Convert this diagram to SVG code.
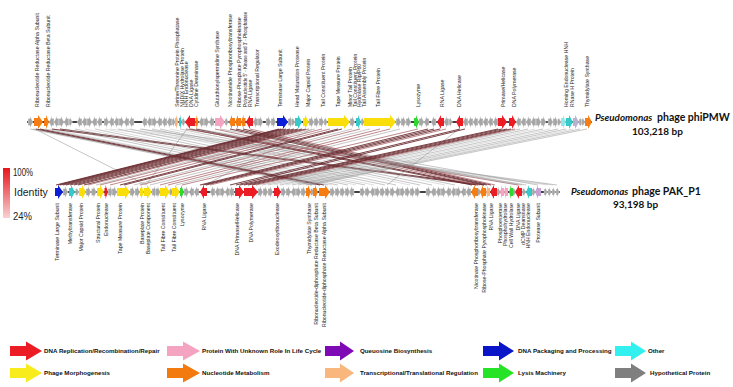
<svg xmlns="http://www.w3.org/2000/svg" xmlns:xlink="http://www.w3.org/1999/xlink" width="733" height="387" viewBox="0 0 733 387">
<style>
.g{fill:#a6a6a6;stroke:#fff;stroke-width:.35}
.bb{stroke:#000;stroke-width:1.6}
.r{fill:#ec1c24}.o{fill:#f57d12}.lo{fill:#f9b47c}.pk{fill:#f4a3c0}.pu{fill:#c5a1d8}.bl{fill:#0b1ed8}.cy{fill:#35c9c9}.lc{fill:#94e6e6}.y{fill:#f9de0a}.gn{fill:#2ed82e}
.lt{font-family:"Liberation Sans",Arial,sans-serif;font-size:5.2px;fill:#1a1a1a}
.lb{font-family:"Liberation Sans",Arial,sans-serif;font-size:5.2px;fill:#1a1a1a;text-anchor:end}
.lg{font-family:"Liberation Sans",Arial,sans-serif;font-size:6.2px;font-weight:bold;fill:#111}
.sp{font-family:Lato,"Liberation Sans",Arial,sans-serif;font-size:10.5px;font-weight:bold;fill:#111}
.spi{font-family:Lato,"Liberation Sans",Arial,sans-serif;font-size:9.8px;font-weight:bold;font-style:italic;fill:#111}
.bp{font-family:Lato,"Liberation Sans",Arial,sans-serif;font-size:10px;font-weight:bold;fill:#111}
.id{font-family:"Liberation Sans",Arial,sans-serif;font-size:10px;fill:#222}
.k1{stroke:#6b2d31;stroke-width:.9}
.k2{stroke:#a0585c;stroke-width:.7}
.k3{stroke:#8c8c8c;stroke-width:.5}
.k4{stroke:#bdbdbd;stroke-width:.5}
</style>
<defs>
<path id="gR" d="M0,-3.5H2V-6L5,0L2,6V3.5H0Z"/>
<path id="gL" d="M5,-3.5H3V-6L0,0L3,6V3.5H5Z"/>
<path id="gs" d="M0,-3H1V-5L3.5,0L1,5V3H0Z"/>
<linearGradient id="idg" x1="0" y1="0" x2="0" y2="1">
<stop offset="0" stop-color="#e8141c"/>
<stop offset="1" stop-color="#f8d2d4"/>
</linearGradient>
</defs>
<rect width="733" height="387" fill="#fff"/>

<g id="connectors" fill="none">
<line class="k3" x1="30" y1="129" x2="312" y2="185"/>
<line class="k3" x1="33" y1="129" x2="316" y2="185"/>
<line class="k1" x1="36" y1="129" x2="320" y2="185"/>
<line class="k1" x1="40" y1="129" x2="324" y2="185"/>
<line class="k3" x1="45" y1="129" x2="328" y2="185"/>
<line class="k4" x1="50" y1="129" x2="332" y2="185"/>
<line class="k1" x1="52" y1="129" x2="478" y2="185"/>
<line class="k1" x1="60" y1="129" x2="484" y2="185"/>
<line class="k3" x1="65" y1="129" x2="338" y2="185"/>
<line class="k3" x1="75" y1="129" x2="348" y2="185"/>
<line class="k4" x1="85" y1="129" x2="356" y2="185"/>
<line class="k3" x1="95" y1="129" x2="365" y2="185"/>
<line class="k4" x1="105" y1="129" x2="374" y2="185"/>
<line class="k3" x1="118" y1="129" x2="385" y2="185"/>
<line class="k3" x1="130" y1="129" x2="396" y2="185"/>
<line class="k4" x1="142" y1="129" x2="410" y2="185"/>
<line class="k3" x1="152" y1="129" x2="420" y2="185"/>
<line class="k3" x1="160" y1="129" x2="432" y2="185"/>
<line class="k4" x1="170" y1="129" x2="445" y2="185"/>
<line class="k3" x1="180" y1="129" x2="455" y2="185"/>
<line class="k4" x1="110" y1="129" x2="548" y2="185"/>
<line class="k4" x1="125" y1="129" x2="553" y2="185"/>
<line class="k3" x1="140" y1="129" x2="557" y2="185"/>
<line class="k1" x1="190" y1="129" x2="472" y2="185"/>
<line class="k1" x1="196" y1="129" x2="476" y2="185"/>
<line class="k2" x1="215" y1="129" x2="480" y2="185"/>
<line class="k1" x1="230" y1="129" x2="484" y2="185"/>
<line class="k1" x1="236" y1="129" x2="487" y2="185"/>
<line class="k1" x1="243" y1="129" x2="491" y2="185"/>
<line class="k2" x1="250" y1="129" x2="495" y2="185"/>
<line class="k2" x1="186" y1="129" x2="518" y2="185"/>
<line class="k3" x1="192" y1="129" x2="522" y2="185"/>
<line class="k3" x1="198" y1="129" x2="526" y2="185"/>
<line class="k3" x1="220" y1="129" x2="538" y2="185"/>
<line class="k3" x1="35" y1="129" x2="146" y2="185"/>
<line class="k3" x1="187" y1="129" x2="146" y2="185"/>
<line class="k1" x1="279" y1="129" x2="56" y2="185"/>
<line class="k1" x1="281" y1="129" x2="58" y2="185"/>
<line class="k1" x1="283" y1="129" x2="60" y2="185"/>
<line class="k1" x1="286" y1="129" x2="63" y2="185"/>
<line class="k1" x1="290" y1="129" x2="66" y2="185"/>
<line class="k1" x1="294" y1="129" x2="70" y2="185"/>
<line class="k1" x1="298" y1="129" x2="74" y2="185"/>
<line class="k1" x1="302" y1="129" x2="78" y2="185"/>
<line class="k1" x1="306" y1="129" x2="84" y2="185"/>
<line class="k2" x1="309" y1="129" x2="88" y2="185"/>
<line class="k3" x1="315" y1="129" x2="96" y2="185"/>
<line class="k2" x1="322" y1="129" x2="100" y2="185"/>
<line class="k2" x1="330" y1="129" x2="110" y2="185"/>
<line class="k1" x1="338" y1="129" x2="120" y2="185"/>
<line class="k1" x1="342" y1="129" x2="124" y2="185"/>
<line class="k3" x1="352" y1="129" x2="134" y2="185"/>
<line class="k2" x1="360" y1="129" x2="140" y2="185"/>
<line class="k3" x1="370" y1="129" x2="150" y2="185"/>
<line class="k2" x1="380" y1="129" x2="160" y2="185"/>
<line class="k2" x1="390" y1="129" x2="168" y2="185"/>
<line class="k3" x1="400" y1="129" x2="176" y2="185"/>
<line class="k2" x1="418" y1="129" x2="182" y2="185"/>
<line class="k3" x1="312" y1="129" x2="205" y2="185"/>
<line class="k1" x1="428" y1="129" x2="200" y2="185"/>
<line class="k1" x1="434" y1="129" x2="203" y2="185"/>
<line class="k1" x1="440" y1="129" x2="206" y2="185"/>
<line class="k2" x1="446" y1="129" x2="210" y2="185"/>
<line class="k3" x1="459" y1="129" x2="387" y2="185"/>
<line class="k1" x1="460" y1="129" x2="230" y2="185"/>
<line class="k1" x1="465" y1="129" x2="236" y2="185"/>
<line class="k1" x1="498" y1="129" x2="240" y2="185"/>
<line class="k1" x1="502" y1="129" x2="244" y2="185"/>
<line class="k1" x1="507" y1="129" x2="248" y2="185"/>
<line class="k1" x1="511" y1="129" x2="252" y2="185"/>
<line class="k2" x1="515" y1="129" x2="256" y2="185"/>
<line class="k3" x1="520" y1="129" x2="262" y2="185"/>
<line class="k3" x1="528" y1="129" x2="268" y2="185"/>
<line class="k4" x1="535" y1="129" x2="274" y2="185"/>
<line class="k3" x1="543" y1="129" x2="280" y2="185"/>
<line class="k4" x1="550" y1="129" x2="286" y2="185"/>
<line class="k3" x1="558" y1="129" x2="292" y2="185"/>
<line class="k3" x1="566" y1="129" x2="298" y2="185"/>
<line class="k4" x1="573" y1="129" x2="303" y2="185"/>
<line class="k3" x1="580" y1="129" x2="306" y2="185"/>
<line class="k3" x1="587" y1="129" x2="310" y2="185"/>
</g>

<g id="genome-phiPMW">
<line class="bb" x1="27" y1="122" x2="592" y2="122"/>
<g class="g">
<use href="#gR" x="28" y="122"/>
<use href="#gL" x="49" y="122"/><use href="#gL" x="54" y="122"/><use href="#gR" x="59" y="122"/><use href="#gL" x="64" y="122"/><use href="#gs" x="69" y="122"/>
<use href="#gL" x="77" y="122"/><use href="#gL" x="82" y="122"/><use href="#gR" x="87" y="122"/><use href="#gL" x="92" y="122"/><use href="#gL" x="97" y="122"/>
<use href="#gR" x="104" y="122"/><use href="#gL" x="109" y="122"/><use href="#gL" x="114" y="122"/><use href="#gR" x="119" y="122"/><use href="#gL" x="124" y="122"/><use href="#gL" x="129" y="122"/>
<use href="#gL" x="142" y="122"/><use href="#gL" x="147" y="122"/><use href="#gR" x="152" y="122"/><use href="#gL" x="157" y="122"/><use href="#gL" x="162" y="122"/><use href="#gL" x="167" y="122"/><use href="#gs" x="172" y="122"/>
<use href="#gs" x="182" y="122"/>
<use href="#gL" x="199" y="122"/><use href="#gR" x="204" y="122"/><use href="#gL" x="209" y="122"/>
<use href="#gs" x="225" y="122"/>
<use href="#gL" x="253" y="122"/><use href="#gR" x="258" y="122"/>
<use href="#gR" x="266" y="122"/><use href="#gR" x="271" y="122"/>
<use href="#gR" x="288" y="122"/><use href="#gs" x="291.5" y="122"/>
<use href="#gR" x="309" y="122"/><use href="#gR" x="314" y="122"/><use href="#gR" x="319" y="122"/><use href="#gs" x="324" y="122"/>
<use href="#gR" x="350" y="122"/><use href="#gs" x="361" y="122"/>
<use href="#gR" x="396" y="122"/><use href="#gR" x="401" y="122"/><use href="#gR" x="406" y="122"/>
<use href="#gR" x="419" y="122"/><use href="#gL" x="424" y="122"/><use href="#gL" x="431" y="122"/>
<use href="#gL" x="444" y="122"/><use href="#gs" x="449" y="122"/>
<use href="#gL" x="463" y="122"/><use href="#gL" x="468" y="122"/><use href="#gL" x="473" y="122"/><use href="#gL" x="478" y="122"/><use href="#gL" x="483" y="122"/><use href="#gL" x="488" y="122"/><use href="#gL" x="493" y="122"/>
<use href="#gL" x="516" y="122"/><use href="#gL" x="521" y="122"/><use href="#gL" x="526" y="122"/><use href="#gL" x="531" y="122"/><use href="#gR" x="536" y="122"/><use href="#gR" x="541" y="122"/>
<use href="#gR" x="548" y="122"/><use href="#gR" x="553" y="122"/><use href="#gs" x="557.5" y="122"/>
<use href="#gs" x="579" y="122"/><use href="#gs" x="581.5" y="122"/>
</g>
<path class="o" d="M34,118H38V115L43,122L38,129V126H34Z"/>
<path class="o" d="M44,118H46V115L49,122L46,129V126H44Z"/>
<path class="lo" d="M175,118H176V115L178.5,122L176,129V126H175Z"/>
<path class="cy" d="M179,118H180V115L182,122L180,129V126H179Z"/>
<path class="r" d="M195,118H190V115L185,122L190,129V126H195Z"/>
<path class="o" d="M195.5,118H196.5V115L198.5,122L196.5,129V126H195.5Z"/>
<path class="pk" d="M215,118H220V115L225,122L220,129V126H215Z"/>
<path class="o" d="M235,118H232V115L229,122L232,129V126H235Z"/>
<path class="o" d="M241,118H238V115L235,122L238,129V126H241Z"/>
<path class="o" d="M245.5,118H243.5V115L241,122L243.5,129V126H245.5Z"/>
<path class="r" d="M253,118H250V115L246,122L250,129V126H253Z"/>
<path class="bl" d="M277,118H283V115L288,122L283,129V126H277Z"/>
<path class="cy" d="M295,118H298V115L302,122L298,129V126H295Z"/>
<path class="y" d="M303,118H305V115L309,122L305,129V126H303Z"/>
<path class="y" d="M328,118H344V115L350,122L344,129V126H328Z"/>
<path class="cy" d="M356,118H358V115L361,122L358,129V126H356Z"/>
<path class="y" d="M364,118H390V115L396,122L390,129V126H364Z"/>
<path class="gn" d="M414,118H416V115L419,122L416,129V126H414Z"/>
<path class="r" d="M444,118H441V115L437,122L441,129V126H444Z"/>
<path class="r" d="M463,118H460V115L456,122L460,129V126H463Z"/>
<path class="r" d="M498,118H502V115L507,122L502,129V126H498Z"/>
<path class="r" d="M509,118H512V115L516,122L512,129V126H509Z"/>
<path class="lc" d="M561,118H563V115L566,122L563,129V126H561Z"/>
<path class="cy" d="M566,118H569V115L573,122L569,129V126H566Z"/>
<path fill="#b8b2d0" d="M573,118H575V115L579,122L575,129V126H573Z"/>
<path class="o" d="M585,118H588V115L592,122L588,129V126H585Z"/>
</g>

<g id="genome-PAK_P1">
<line class="bb" x1="55" y1="192" x2="560" y2="192"/>
<g class="g">
<use href="#gR" x="63" y="192"/><use href="#gs" x="75.5" y="192"/>
<use href="#gR" x="86" y="192"/><use href="#gR" x="91.5" y="192"/>
<use href="#gR" x="108" y="192"/><use href="#gR" x="112" y="192"/>
<use href="#gR" x="130" y="192"/><use href="#gR" x="135" y="192"/>
<use href="#gR" x="152" y="192"/><use href="#gR" x="155.5" y="192"/>
<use href="#gs" x="169.5" y="192"/>
<use href="#gR" x="184" y="192"/><use href="#gL" x="189" y="192"/><use href="#gL" x="194" y="192"/>
<use href="#gL" x="210" y="192"/><use href="#gL" x="215" y="192"/><use href="#gR" x="220" y="192"/><use href="#gL" x="225" y="192"/><use href="#gL" x="229" y="192"/>
<use href="#gR" x="258" y="192"/><use href="#gR" x="263" y="192"/><use href="#gR" x="268" y="192"/>
<use href="#gR" x="281" y="192"/><use href="#gR" x="286" y="192"/><use href="#gL" x="291" y="192"/><use href="#gR" x="296" y="192"/><use href="#gR" x="301" y="192"/>
<use href="#gs" x="310.5" y="192"/>
<use href="#gR" x="330" y="192"/><use href="#gR" x="335" y="192"/><use href="#gR" x="340" y="192"/><use href="#gR" x="345" y="192"/><use href="#gL" x="349" y="192"/>
<use href="#gR" x="360" y="192"/><use href="#gR" x="365" y="192"/><use href="#gL" x="370" y="192"/><use href="#gR" x="375" y="192"/><use href="#gR" x="380" y="192"/><use href="#gR" x="385" y="192"/><use href="#gR" x="390" y="192"/><use href="#gL" x="395" y="192"/><use href="#gR" x="400" y="192"/><use href="#gR" x="405" y="192"/><use href="#gR" x="410" y="192"/><use href="#gR" x="415" y="192"/>
<use href="#gR" x="426" y="192"/><use href="#gL" x="431" y="192"/><use href="#gL" x="436" y="192"/><use href="#gR" x="441" y="192"/><use href="#gL" x="446" y="192"/><use href="#gL" x="451" y="192"/><use href="#gR" x="456" y="192"/><use href="#gL" x="461" y="192"/><use href="#gL" x="466" y="192"/>
<use href="#gs" x="477.5" y="192"/><use href="#gs" x="497" y="192"/><use href="#gs" x="512.5" y="192"/><use href="#gs" x="522.5" y="192"/><use href="#gs" x="532" y="192"/>
<use href="#gs" x="544" y="192"/><use href="#gs" x="548" y="192"/><use href="#gs" x="552" y="192"/><use href="#gs" x="556" y="192"/>
</g>
<path class="bl" d="M55,188H58V185L63,192L58,199V196H55Z"/>
<path class="cy" d="M69,188H71V185L75,192L71,199V196H69Z"/>
<path class="y" d="M79,188H82V185L86,192L82,199V196H79Z"/>
<path class="y" d="M97,188H100V185L104,192L100,199V196H97Z"/>
<path class="r" d="M104.5,188H105.5V185L108,192L105.5,199V196H104.5Z"/>
<path class="y" d="M117,188H125V185L130,192L125,199V196H117Z"/>
<path class="y" d="M140,188H141V185L144,192L141,199V196H140Z"/>
<path class="y" d="M144,188H147V185L152,192L147,199V196H144Z"/>
<path class="y" d="M160,188H165V185L170,192L165,199V196H160Z"/>
<path class="y" d="M172,188H175V185L180,192L175,199V196H172Z"/>
<path class="gn" d="M180,188H181V185L184,192L181,199V196H180Z"/>
<path class="r" d="M207,188H204V185L200,192L204,199V196H207Z"/>
<path class="r" d="M235,188H239V185L244,192L239,199V196H235Z"/>
<path class="r" d="M244,188H252V185L258,192L252,199V196H244Z"/>
<path class="r" d="M274,188H277V185L281,192L277,199V196H274Z"/>
<path class="o" d="M306,188H308V185L311,192L308,199V196H306Z"/>
<path class="o" d="M313,188H315V185L318,192L315,199V196H313Z"/>
<path class="o" d="M319,188H325V185L330,192L325,199V196H319Z"/>
<path class="o" d="M478,188H475V185L471,192L475,199V196H478Z"/>
<path class="o" d="M486,188H483V185L480,192L483,199V196H486Z"/>
<path class="lo" d="M490,188H488V185L486,192L488,199V196H490Z"/>
<path class="r" d="M497,188H494V185L490,192L494,199V196H497Z"/>
<path class="pk" d="M504,188H502V185L500,192L502,199V196H504Z"/>
<path class="pk" d="M508,188H506V185L504,192L506,199V196H508Z"/>
<path class="gn" d="M513,188H511V185L509,192L511,199V196H513Z"/>
<path class="r" d="M522,188H519V185L515,192L519,199V196H522Z"/>
<path class="cy" d="M532,188H529V185L526,192L529,199V196H532Z"/>
<path class="pu" d="M541,188H538V185L535,192L538,199V196H541Z"/>
</g>

<g id="labels-phiPMW">
<text class="lt" transform="translate(38.8,107) rotate(-90)">Ribonucleotide Reductase Alpha Subunit</text>
<text class="lt" transform="translate(49.8,107) rotate(-90)">Ribonucleotide Reductase Beta Subunit</text>
<text class="lt" transform="translate(178.8,107) rotate(-90)">Serine/Threonine Protein Phosphatase</text>
<text class="lt" transform="translate(183.5,107) rotate(-90)">NUDIX Hydrolase Protein</text>
<text class="lt" transform="translate(188.2,107) rotate(-90)">HNH Endonuclease</text>
<text class="lt" transform="translate(192.8,107) rotate(-90)">DNA Ligase</text>
<text class="lt" transform="translate(197.5,107) rotate(-90)">Cytidine Deaminase</text>
<text class="lt" transform="translate(218.8,107) rotate(-90)">Glutathionylspermidine Synthase</text>
<text class="lt" transform="translate(231.8,107) rotate(-90)">Nicotinamide Phosphoribosyltransferase</text>
<text class="lt" transform="translate(240.8,107) rotate(-90)">Ribose-Phosphate Pyrophosphokinase</text>
<text class="lt" transform="translate(247,107) rotate(-90)" style="font-size:4.5px">Polynucleotide 5' - Kinase and 3' - Phosphatase</text>
<text class="lt" transform="translate(252,107) rotate(-90)">RNA Ligase</text>
<text class="lt" transform="translate(258.8,107) rotate(-90)">Transcriptional Regulator</text>
<text class="lt" transform="translate(281.8,107) rotate(-90)">Terminase Large Subunit</text>
<text class="lt" transform="translate(298.8,107) rotate(-90)">Head Maturation Protease</text>
<text class="lt" transform="translate(309.8,107) rotate(-90)">Major Capsid Protein</text>
<text class="lt" transform="translate(324.8,107) rotate(-90)">Tail Constituent Protein</text>
<text class="lt" transform="translate(339.8,107) rotate(-90)">Tape Measure Protein</text>
<text class="lt" transform="translate(351.8,107) rotate(-90)">Minor Tail Protein</text>
<text class="lt" transform="translate(356.5,107) rotate(-90)">Tail Constituent Protein</text>
<text class="lt" transform="translate(361.2,107) rotate(-90)">Hydrolase Rlp/P60</text>
<text class="lt" transform="translate(366,107) rotate(-90)">Tail Assembly Protein</text>
<text class="lt" transform="translate(379.8,107) rotate(-90)">Tail Fibre Protein</text>
<text class="lt" transform="translate(419.8,107) rotate(-90)">Lysozyme</text>
<text class="lt" transform="translate(443.8,107) rotate(-90)">RNA Ligase</text>
<text class="lt" transform="translate(460.8,107) rotate(-90)">DNA Helicase</text>
<text class="lt" transform="translate(504.8,107) rotate(-90)">Primase/Helicase</text>
<text class="lt" transform="translate(515.8,107) rotate(-90)">DNA Polymerase</text>
<text class="lt" transform="translate(567.8,107) rotate(-90)">Homing Endonuclease HNH</text>
<text class="lt" transform="translate(573.6,107) rotate(-90)">RNase H Protein</text>
<text class="lt" transform="translate(588.8,107) rotate(-90)">Thymidylate Synthase</text>
</g>

<g id="labels-PAK_P1">
<text class="lb" transform="translate(58.8,203) rotate(-90)">Terminase Large Subunit</text>
<text class="lb" transform="translate(71.8,203) rotate(-90)">Methyltransferase</text>
<text class="lb" transform="translate(82.8,203) rotate(-90)">Major Capsid Protein</text>
<text class="lb" transform="translate(99.8,203) rotate(-90)">Structural Protein</text>
<text class="lb" transform="translate(107.8,203) rotate(-90)">Endonuclease</text>
<text class="lb" transform="translate(121.8,203) rotate(-90)">Tape Measure Protein</text>
<text class="lb" transform="translate(143.8,203) rotate(-90)">Baseplate Protein</text>
<text class="lb" transform="translate(149.8,203) rotate(-90)">Baseplate Component</text>
<text class="lb" transform="translate(164.8,203) rotate(-90)">Tail Fibre Constituent</text>
<text class="lb" transform="translate(175.8,203) rotate(-90)">Tail Fibre Constituent</text>
<text class="lb" transform="translate(183.8,203) rotate(-90)">Lysozyme</text>
<text class="lb" transform="translate(205.8,203) rotate(-90)">RNA Ligase</text>
<text class="lb" transform="translate(238.8,203) rotate(-90)">DNA Primase/Helicase</text>
<text class="lb" transform="translate(252.8,203) rotate(-90)">DNA Polymerase</text>
<text class="lb" transform="translate(278.8,203) rotate(-90)">Exodeoxyribonuclease</text>
<text class="lb" transform="translate(310.8,203) rotate(-90)">Thymidylate Synthase</text>
<text class="lb" transform="translate(317.8,203) rotate(-90)">Ribonucleotide-diphosphate Reductase Beta Subunit</text>
<text class="lb" transform="translate(325.8,203) rotate(-90)">Ribonucleotide-diphosphate Reductase Alpha Subunit</text>
<text class="lb" transform="translate(477.8,203) rotate(-90)">Nicotinate Phosphoribosyltransferase</text>
<text class="lb" transform="translate(485.8,203) rotate(-90)">Ribose-Phosphate Pyrophosphokinase</text>
<text class="lb" transform="translate(492.8,203) rotate(-90)">RNA Ligase</text>
<text class="lb" transform="translate(501.8,203) rotate(-90)">Phosphoesterase</text>
<text class="lb" transform="translate(506.8,203) rotate(-90)">Phosphohydrolase</text>
<text class="lb" transform="translate(512.8,203) rotate(-90)">Cell Wall Hydrolase</text>
<text class="lb" transform="translate(519.8,203) rotate(-90)">DNA Ligase</text>
<text class="lb" transform="translate(524.8,203) rotate(-90)">dCMP Deaminase</text>
<text class="lb" transform="translate(529.8,203) rotate(-90)">HNH Endonuclease</text>
<text class="lb" transform="translate(539.8,203) rotate(-90)">Protease Subunit</text>
</g>

<g id="genome-names">
<text class="spi" x="595" y="121">Pseudomonas</text>
<text class="sp" x="657" y="121">phage phiPMW</text>
<text class="bp" x="632" y="135">103,218 bp</text>
<text class="spi" x="571" y="195">Pseudomonas</text>
<text class="sp" x="632" y="195">phage PAK_P1</text>
<text class="bp" x="613" y="208">93,198 bp</text>
</g>

<g id="identity-scale">
<rect x="3" y="168" width="7" height="50" fill="url(#idg)"/>
<text class="id" x="13" y="176" textLength="20" lengthAdjust="spacingAndGlyphs">100%</text>
<text class="id" x="14" y="196" style="font-size:10.5px">Identity</text>
<text class="id" x="13" y="220" textLength="19" lengthAdjust="spacingAndGlyphs">24%</text>
</g>

<g id="legend">
<path class="r" d="M10,346H26V341.5L42,351L26,360.5V356H10Z"/>
<text class="lg" x="44" y="353">DNA Replication/Recombination/Repair</text>
<path class="pk" d="M167,346H183V341.5L200,351L183,360.5V356H167Z"/>
<text class="lg" x="202" y="353">Protein With Unknown Role In Life Cycle</text>
<path fill="#7d0ab4" d="M325,346H340V341.5L354,351L340,360.5V356H325Z"/>
<text class="lg" x="360" y="353">Queuosine Biosynthesis</text>
<path fill="#0a14c8" d="M483,346H499V341.5L514,351L499,360.5V356H483Z"/>
<text class="lg" x="518" y="353">DNA Packaging and Processing</text>
<path fill="#33f0f0" d="M615,346H631V341.5L646,351L631,360.5V356H615Z"/>
<text class="lg" x="648" y="353">Other</text>
<path fill="#f8ec1c" d="M10,368H26V363.5L42,373L26,382.5V378H10Z"/>
<text class="lg" x="44" y="375">Phage Morphogenesis</text>
<path fill="#f37a0e" d="M167,368H183V363.5L200,373L183,382.5V378H167Z"/>
<text class="lg" x="202" y="375">Nucleotide Metabolism</text>
<path fill="#f9b77e" d="M325,368H340V363.5L354,373L340,382.5V378H325Z"/>
<text class="lg" x="360" y="375">Transcriptional/Translational Regulation</text>
<path fill="#27e327" d="M483,368H499V363.5L514,373L499,382.5V378H483Z"/>
<text class="lg" x="518" y="375">Lysis Machinery</text>
<path fill="#7f7f7f" d="M615,368H631V363.5L646,373L631,382.5V378H615Z"/>
<text class="lg" x="650" y="375">Hypothetical Protein</text>
</g>
</svg>
